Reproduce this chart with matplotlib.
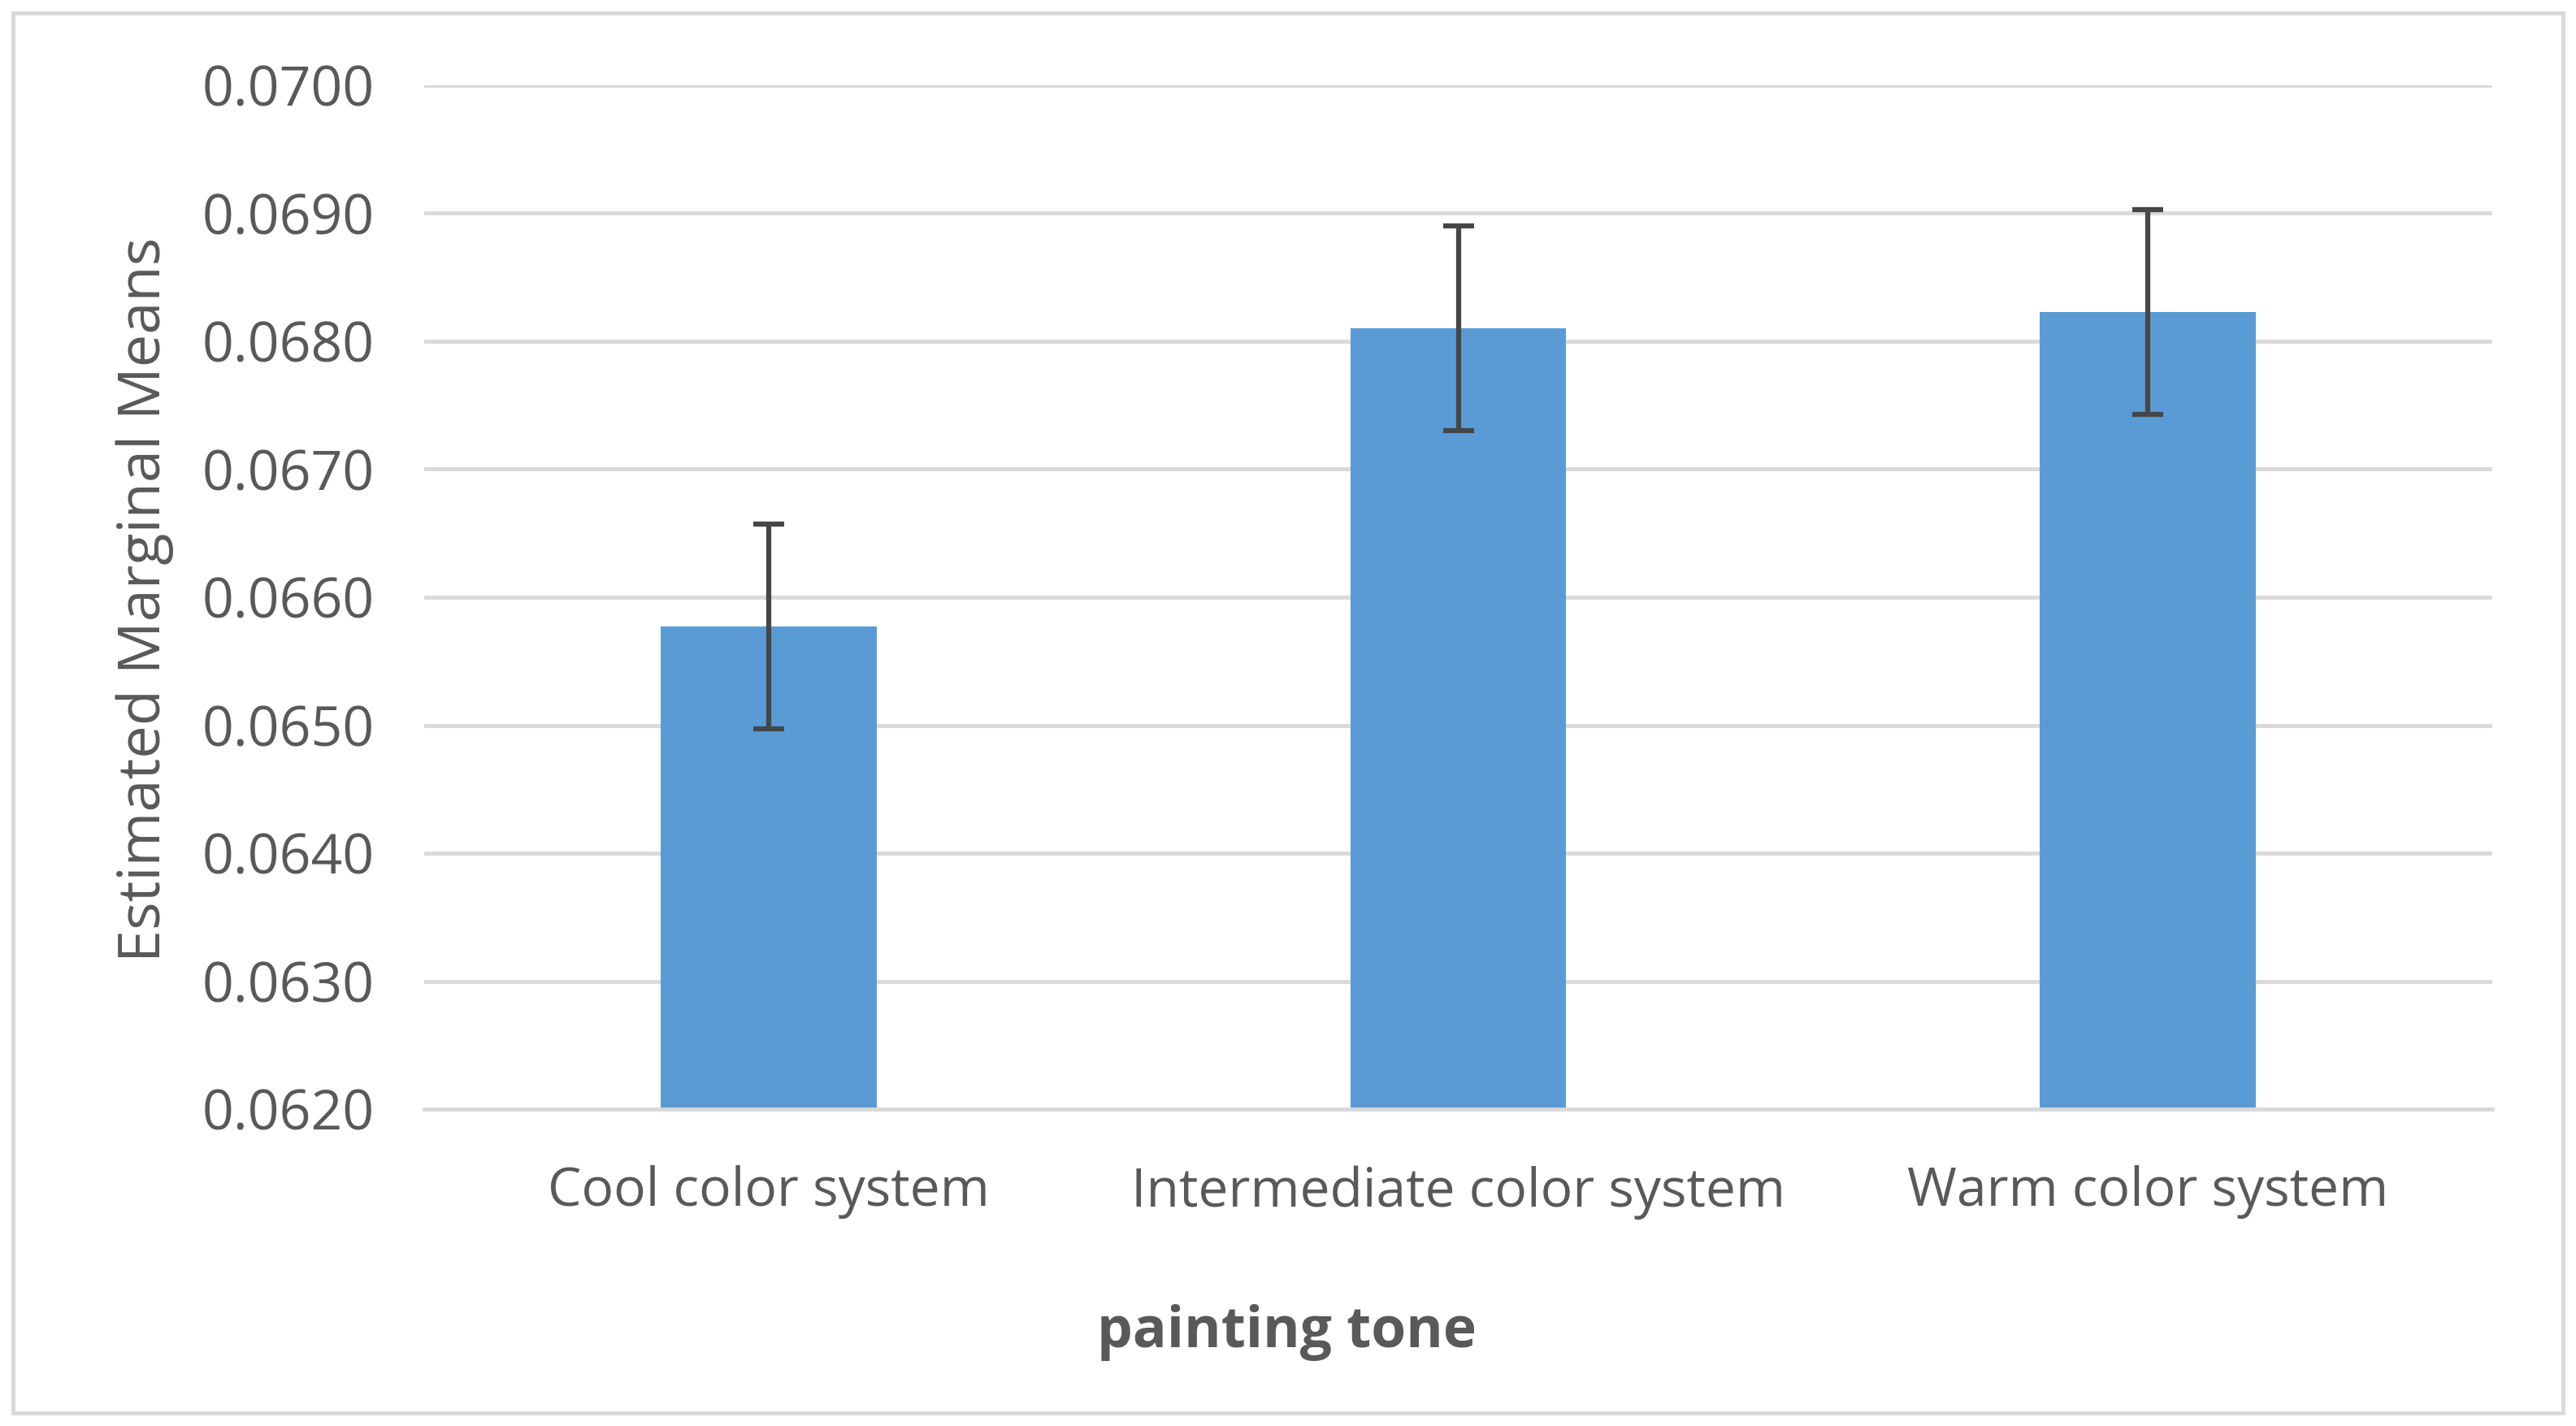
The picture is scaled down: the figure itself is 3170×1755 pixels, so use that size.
import matplotlib
matplotlib.use("Agg")
import matplotlib.pyplot as plt
from matplotlib.patches import Rectangle

plt.rcParams['font.family'] = ['Open Sans', 'DejaVu Sans']

categories = ['Cool color system', 'Intermediate color system', 'Warm color system']
means = [0.06577, 0.06810, 0.06823]
errors = [0.00080, 0.00080, 0.00080]
yticks = [0.0620, 0.0630, 0.0640, 0.0650, 0.0660, 0.0670, 0.0680, 0.0690, 0.0700]

text_color = '#595959'
grid_color = '#d9d9d9'

fig = plt.figure(figsize=(31.7, 17.55), dpi=100)
ax = fig.add_axes([0.1647, 0.2222, 0.8028, 0.7180])

x = range(len(categories))
ax.bar(x, means, width=0.313, color='#5b9bd5', zorder=2)
ax.errorbar(x, means, yerr=errors, fmt='none', ecolor='#464646',
            elinewidth=4.5, capsize=14, capthick=4.5, zorder=3)

ax.set_ylim(0.0620, 0.0700)
ax.set_xlim(-0.5, 2.5)
ax.set_yticks(yticks)
ax.set_yticklabels([f'{v:.4f}' for v in yticks])
ax.set_xticks(list(x))
ax.set_xticklabels(categories)

ax.grid(axis='y', color=grid_color, linewidth=3.5, zorder=0)
ax.set_axisbelow(True)
for side in ['top', 'right', 'left']:
    ax.spines[side].set_visible(False)
ax.spines['bottom'].set_color(grid_color)
ax.spines['bottom'].set_linewidth(3.5)

ax.tick_params(axis='y', length=0, pad=44, labelsize=49, labelcolor=text_color)
ax.tick_params(axis='x', length=0, pad=50, labelsize=47.5, labelcolor=text_color)

ax.set_ylabel('Estimated Marginal Means', fontsize=52, color=text_color, va='center')
ax.yaxis.set_label_coords(-0.135, 0.498)
ax.set_xlabel('painting tone', fontsize=50, fontweight='bold', color=text_color, va='center')
ax.xaxis.set_label_coords(0.417, -0.218)

# chart-area border
fig.patches.append(Rectangle((16 / 3170, 16 / 1755), 3138 / 3170, 1723 / 1755,
                             transform=fig.transFigure, fill=False,
                             edgecolor=grid_color, linewidth=3.5))

fig.savefig('out.png', dpi=100)
